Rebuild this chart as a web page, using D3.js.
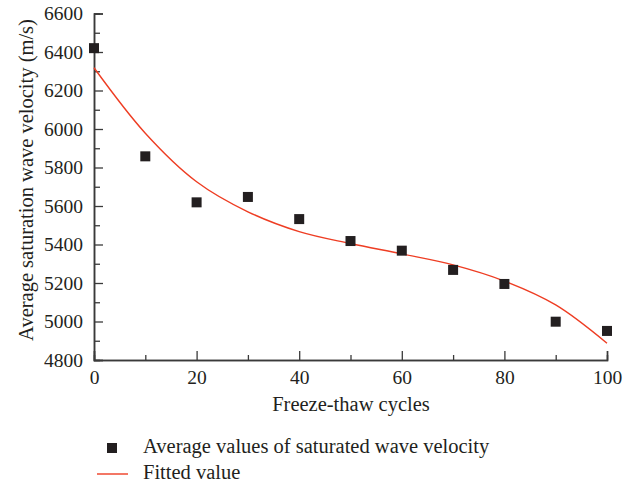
<!DOCTYPE html>
<html><head><meta charset="utf-8">
<script src="https://cdn.jsdelivr.net/npm/d3@7"></script>
<style>body{margin:0;background:#fff}svg text{font-family:"Liberation Serif","DejaVu Serif",serif;fill:#231f20}</style>
</head><body><svg id="c" width="635" height="485"></svg>
<script>
const cycles = [0,10,20,30,40,50,60,70,80,90,100];
const velocity = [6420,5858,5619,5647,5532,5418,5368,5268,5195,4999,4951];
const fitX = [0,10,20,30,40,50,60,70,80,90,100];
const fitY = [6318,5978,5726,5570,5467,5405,5351,5294,5210,5086,4887];
const xTicks = [0,20,40,60,80,100];
const yTicks = [4800,5000,5200,5400,5600,5800,6000,6200,6400,6600];
const seriesNames = ["Average values of saturated wave velocity","Fitted value"];

const svg = d3.select("#c");
const x = d3.scaleLinear().domain([0,100]).range([94,607]);
const y = d3.scaleLinear().domain([4800,6600]).range([360,13.5]);
const axisColor = "#3a3a3a";

// minor ticks
const gx = svg.append("g").attr("transform","translate(0,360)");
gx.call(d3.axisBottom(x).tickValues(d3.range(10,100,20)).tickSize(-5).tickFormat(""));
gx.append("g").call(d3.axisBottom(x).tickValues(xTicks).tickSize(-9).tickPadding(10).tickFormat(d3.format("d")));
gx.selectAll("path.domain").attr("stroke",axisColor).attr("stroke-width",1.5);
gx.selectAll("line").attr("stroke",axisColor).attr("stroke-width",1.3);
gx.selectAll("text").attr("font-size",19.5).attr("fill","#231f20").attr("dy","0.71em");

const gy = svg.append("g").attr("transform","translate(94,0)");
gy.call(d3.axisLeft(y).tickValues(d3.range(4900,6600,200)).tickSize(-6).tickFormat(""));
gy.append("g").call(d3.axisLeft(y).tickValues(yTicks).tickSize(-9).tickPadding(11).tickFormat(d3.format("d")));
gy.selectAll("path.domain").attr("stroke",axisColor).attr("stroke-width",1.5);
gy.selectAll("line").attr("stroke",axisColor).attr("stroke-width",1.3);
gy.selectAll("text").attr("font-size",19.5).attr("fill","#231f20");

// fitted curve
const line = d3.line().x(d=>x(d[0])).y(d=>y(d[1])).curve(d3.curveCatmullRom.alpha(0.5));
svg.append("path").datum(fitX.map((v,i)=>[v,fitY[i]]))
  .attr("d",line).attr("fill","none").attr("stroke","#ee3d23").attr("stroke-width",1.4);

// points
svg.append("g").selectAll("rect").data(cycles.map((v,i)=>[v,velocity[i]])).join("rect")
  .attr("x",d=>x(d[0])-5).attr("y",d=>y(d[1])-5).attr("width",10).attr("height",10)
  .attr("fill","#231f20");

// axis titles
svg.append("text").attr("x",351).attr("y",411).attr("text-anchor","middle")
  .attr("font-size",20.5).text("Freeze-thaw cycles");
svg.append("text").attr("transform","translate(33,180) rotate(-90)").attr("text-anchor","middle")
  .attr("font-size",20.5).text("Average saturation wave velocity (m/s)");

// legend
svg.append("rect").attr("x",107).attr("y",443).attr("width",10).attr("height",10).attr("fill","#231f20");
svg.append("text").attr("x",143).attr("y",453).attr("font-size",20.5).text(seriesNames[0]);
svg.append("line").attr("x1",97).attr("x2",128).attr("y1",474).attr("y2",474).attr("stroke","#ee3d23").attr("stroke-width",1.4);
svg.append("text").attr("x",143).attr("y",479).attr("font-size",20.5).text(seriesNames[1]);
</script></body></html>
